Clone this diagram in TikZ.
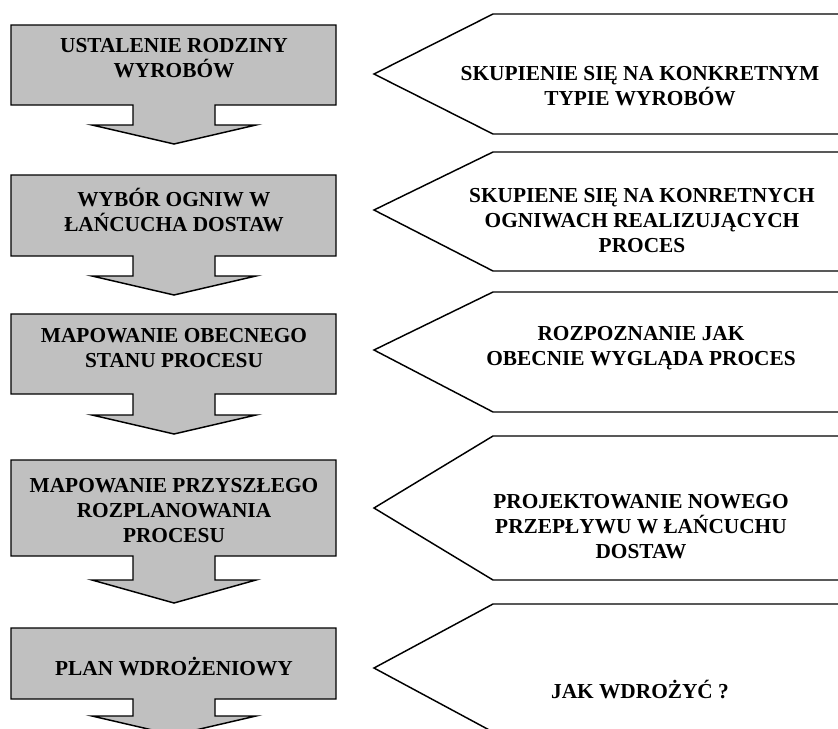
\documentclass[tikz,border=0pt]{standalone}
\usepackage{fontspec}
\setmainfont{Liberation Serif}
\definecolor{stagegray}{RGB}{192,192,192}

\begin{document}
\begin{tikzpicture}[x=0.75pt,y=0.75pt,yscale=-1,xscale=1,
  stage/.style={draw, line width=1.1pt, fill=stagegray, line join=miter},
  aim/.style={draw, line width=1.1pt, line join=miter},
  txt/.style={align=center, inner sep=0pt, font=\bfseries\fontsize{16}{18.75}\selectfont}]
\useasboundingbox (0,0) rectangle (838,728);
\clip (0,0) rectangle (838,728);

%Shape: Down Arrow Callout [id:stage1]
\draw [stage] (11,25) -- (336,25) -- (336,105) -- (215,105) -- (215,125) -- (256,125) -- (174,144) -- (92,125) -- (133,125) -- (133,105) -- (11,105) -- cycle ;
%Shape: Down Arrow Callout [id:stage2]
\draw [stage] (11,175) -- (336,175) -- (336,256) -- (215,256) -- (215,276) -- (256,276) -- (174,295) -- (92,276) -- (133,276) -- (133,256) -- (11,256) -- cycle ;
%Shape: Down Arrow Callout [id:stage3]
\draw [stage] (11,314) -- (336,314) -- (336,394) -- (215,394) -- (215,415) -- (256,415) -- (174,434) -- (92,415) -- (133,415) -- (133,394) -- (11,394) -- cycle ;
%Shape: Down Arrow Callout [id:stage4]
\draw [stage] (11,460) -- (336,460) -- (336,556) -- (215,556) -- (215,580) -- (256,580) -- (174,603) -- (92,580) -- (133,580) -- (133,556) -- (11,556) -- cycle ;
%Shape: Down Arrow Callout [id:stage5]
\draw [stage] (11,628) -- (336,628) -- (336,699) -- (215,699) -- (215,716) -- (256,716) -- (174,735) -- (92,716) -- (133,716) -- (133,699) -- (11,699) -- cycle ;


%Shape: Left Pentagon [id:aim1]
\draw [aim] (860,14) -- (493,14) -- (374,74) -- (493,134) -- (860,134) ;
%Shape: Left Pentagon [id:aim2]
\draw [aim] (860,152) -- (493,152) -- (374,210) -- (493,271) -- (860,271) ;
%Shape: Left Pentagon [id:aim3]
\draw [aim] (860,292) -- (493,292) -- (374,350) -- (493,412) -- (860,412) ;
%Shape: Left Pentagon [id:aim4]
\draw [aim] (860,436) -- (493,436) -- (374,508) -- (493,580) -- (860,580) ;
%Shape: Left Pentagon [id:aim5]
\draw [aim] (860,604) -- (493,604) -- (374,668) -- (493,732) -- (860,732) ;


% Text Node
\draw (174,58) node [txt] (rodzina) {USTALENIE RODZINY\\WYROBÓW};
% Text Node
\draw (174,210) node [txt] (ogniwa) {WYBÓR OGNIW W\\ŁAŃCUCHA DOSTAW};
% Text Node
\draw (174,348) node [txt] (obecny) {MAPOWANIE OBECNEGO\\STANU PROCESU};
% Text Node
\draw (174,511) node [txt] (przyszly) {MAPOWANIE PRZYSZŁEGO\\ROZPLANOWANIA\\PROCESU};
% Text Node
\draw (174,667) node [txt] (plan) {PLAN WDROŻENIOWY};
% Text Node
\draw (640,86) node [txt] (typ) {SKUPIENIE SIĘ NA KONKRETNYM\\TYPIE WYROBÓW};
% Text Node
\draw (642,221) node [txt] (ogniwo) {SKUPIENE SIĘ NA KONRETNYCH\\OGNIWACH REALIZUJĄCYCH\\PROCES};
% Text Node
\draw (641,348) node [txt] (rozpoznanie) {ROZPOZNANIE JAK\\OBECNIE WYGLĄDA PROCES};
% Text Node
\draw (641,527) node [txt] (projekt) {PROJEKTOWANIE NOWEGO\\PRZEPŁYWU W ŁAŃCUCHU\\DOSTAW};
% Text Node
\draw (640,689) node [txt] (jak) {JAK WDROŻYĆ ?};


\end{tikzpicture}
\end{document}
